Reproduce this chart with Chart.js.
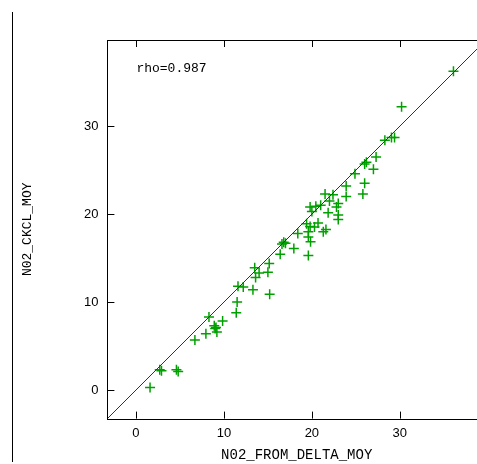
<!DOCTYPE html>
<html>
<head>
<meta charset="utf-8">
<script src="https://cdn.jsdelivr.net/npm/chart.js@4/dist/chart.umd.min.js"></script>
<style>
  html, body { margin: 0; padding: 0; background: #fff; overflow: hidden; }
  #wrap { position: relative; width: 477px; height: 464px; overflow: hidden; }
  #bord { position: absolute; left: 12px; top: 12px; height: 450px; border-left: 1px solid #000; }
  canvas { position: absolute; left: 0; top: 0; }
</style>
</head>
<body>
<div id="wrap">
  <div id="bord"></div>
  <canvas id="c" width="500" height="464"></canvas>
</div>
<script>
// valeurs
const xDelta = [1.6, 2.7, 2.9, 4.6, 4.8, 6.7, 7.95, 8.3, 8.9, 9.1, 9.0, 9.2, 9.85, 11.4, 11.5,
    11.6, 12.2, 13.3, 13.6, 14.0, 13.5, 15.0, 15.2, 15.15, 16.4, 16.6, 16.8, 17.0, 17.95, 19.6,
    19.85, 19.6, 18.4, 19.6, 19.8, 20.3, 19.4, 20.7, 21.3, 21.6, 20.0, 19.8, 20.45, 21.0, 21.85,
    23.0, 23.0, 22.8, 23.0, 22.0, 21.5, 22.4, 23.9, 23.9, 25.8, 26.0, 24.9, 26.0, 26.2, 27.0,
    27.3, 28.3, 29.05, 29.4, 30.2, 36.1];
const yCkcl = [0.3, 2.3, 2.2, 2.3, 2.1, 5.7, 6.4, 8.3, 7.3, 7.1, 7.0, 6.6, 7.85, 8.8, 10.0,
    11.8, 11.7, 11.4, 12.8, 13.3, 13.9, 13.4, 10.9, 14.4, 15.45, 16.6, 16.8, 16.7, 16.1, 15.3,
    16.85, 17.4, 17.8, 18.0, 18.6, 18.55, 18.9, 19.0, 18.0, 18.25, 20.3, 20.8, 20.9, 21.0, 20.15,
    19.9, 19.4, 20.8, 21.2, 21.5, 22.3, 22.2, 22.0, 23.2, 22.3, 23.5, 24.6, 25.7, 25.9, 25.1,
    26.5, 28.4, 28.7, 28.7, 32.2, 36.25];
const ligne1to1 = [-10, 50];
const ticksVals = [0, 10, 20, 30];
const rhoTexte = 'rho=0.987';

const points = xDelta.map((x, i) => ({ x: x, y: yCkcl[i] }));

// cadre + petites graduations vers l'interieur
const cadre = {
    id: 'cadre',
    afterDraw(chart) {
        const ctx = chart.ctx;
        const a = chart.chartArea;
        const sx = chart.scales.x, sy = chart.scales.y;
        ctx.save();
        ctx.strokeStyle = '#000';
        ctx.lineWidth = 1;
        ctx.strokeRect(Math.round(a.left) + 0.5, Math.round(a.top) + 0.5,
            Math.round(a.right - a.left), Math.round(a.bottom - a.top));
        ctx.beginPath();
        ticksVals.forEach(v => {
            const px = Math.round(sx.getPixelForValue(v)) + 0.5;
            ctx.moveTo(px, a.bottom); ctx.lineTo(px, a.bottom - 7);
            ctx.moveTo(px, a.top); ctx.lineTo(px, a.top + 7);
            const py = Math.round(sy.getPixelForValue(v)) + 0.5;
            ctx.moveTo(a.left, py); ctx.lineTo(a.left + 7, py);
            ctx.moveTo(a.right, py); ctx.lineTo(a.right - 7, py);
        });
        ctx.stroke();
        ctx.fillStyle = '#000';
        ctx.font = '13px "Liberation Mono", monospace';
        ctx.textBaseline = 'middle';
        ctx.fillText(rhoTexte, a.left + 29, a.top + 29);
        ctx.restore();
    }
};

new Chart(document.getElementById('c'), {
    type: 'scatter',
    data: {
        datasets: [{
            type: 'line',
            data: ligne1to1.map(v => ({ x: v, y: v })),
            borderColor: '#333',
            borderWidth: 1,
            pointRadius: 0,
            fill: false
        }, {
            data: points,
            pointStyle: 'cross',
            pointRadius: 5,
            borderWidth: 1.5,
            borderColor: '#00a000',
            backgroundColor: '#00a000'
        }]
    },
    options: {
        responsive: false,
        animation: false,
        layout: { padding: { top: 40, right: 14, left: 0, bottom: 0 } },
        plugins: { legend: { display: false }, tooltip: { enabled: false } },
        scales: {
            x: {
                type: 'linear',
                min: -3.25,
                max: 39.8,
                afterFit: s => { s.height = 45.4; },
                afterBuildTicks: s => { s.ticks = ticksVals.map(v => ({ value: v })); },
                grid: { display: false, drawTicks: false },
                border: { display: false },
                ticks: { padding: 7, color: '#000', font: { family: 'Liberation Sans', size: 13 } },
                title: {
                    display: true,
                    text: 'N02_FROM_DELTA_MOY',
                    color: '#000',
                    padding: { top: 6, bottom: 0 },
                    font: { family: 'Liberation Mono', size: 14 }
                }
            },
            y: {
                type: 'linear',
                min: -3.25,
                max: 39.8,
                afterFit: s => { s.width = 107.4; },
                afterBuildTicks: s => { s.ticks = ticksVals.map(v => ({ value: v })); },
                grid: { display: false, drawTicks: false },
                border: { display: false },
                ticks: { padding: 9, color: '#000', font: { family: 'Liberation Sans', size: 13 } },
                title: {
                    display: true,
                    text: 'N02_CKCL_MOY',
                    color: '#000',
                    padding: { top: 20, bottom: 0 },
                    font: { family: 'Liberation Mono', size: 13 }
                }
            }
        }
    },
    plugins: [cadre]
});
</script>
</body>
</html>
